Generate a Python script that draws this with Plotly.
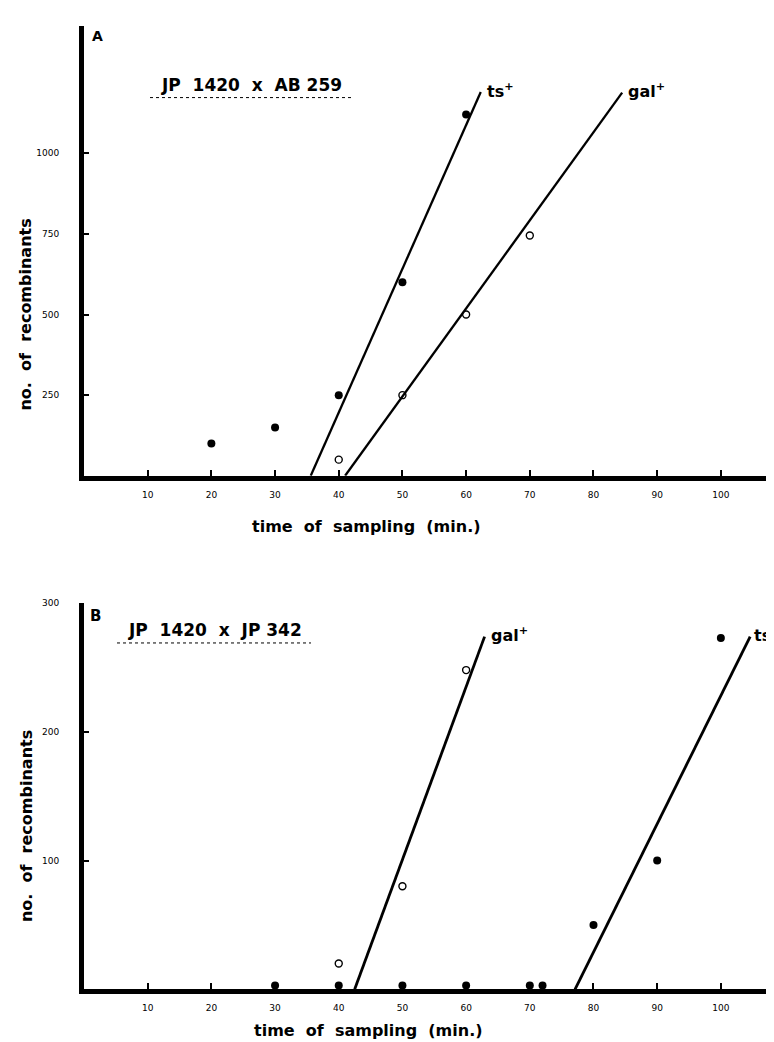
import plotly.graph_objects as go

# ---------------- data ----------------
# Panel A: JP 1420 x AB 259
a_ts_time = [20, 30, 40, 50, 60]
a_ts_count = [100, 150, 250, 600, 1120]
a_gal_time = [40, 50, 60, 70]
a_gal_count = [50, 250, 500, 745]
a_ts_fit_time = [35.6, 62.3]
a_ts_fit_count = [0, 1190]
a_gal_fit_time = [41.0, 84.5]
a_gal_fit_count = [0, 1188]

# Panel B: JP 1420 x JP 342
b_gal_time = [40, 50, 60]
b_gal_count = [20, 80, 248]
b_ts_time = [30, 40, 50, 60, 70, 72, 80, 90, 100]
b_ts_count = [3, 3, 3, 3, 3, 3, 50, 100, 273]
b_gal_fit_time = [42.5, 62.9]
b_gal_fit_count = [0, 274]
b_ts_fit_time = [77.1, 104.6]
b_ts_fit_count = [0, 274]

x_ticks = [10, 20, 30, 40, 50, 60, 70, 80, 90, 100]
a_y_ticks = [250, 500, 750, 1000]
b_y_ticks = [100, 200, 300]

# ---------------- figure ----------------
W, H = 774, 1042
L = 76
FONT = "DejaVu Sans"

def px(xp):
    return (xp - L) / (W - L)

def py(yp):
    return 1 - yp / H

fig = go.Figure()

def add_panel(xa, ya, fits, filled, opened, lw):
    for fx, fy in fits:
        fig.add_trace(go.Scatter(x=fx, y=fy, mode="lines", xaxis=xa, yaxis=ya,
                                 line=dict(color="black", width=lw),
                                 showlegend=False, hoverinfo="skip"))
    fig.add_trace(go.Scatter(x=filled[0], y=filled[1], mode="markers", xaxis=xa, yaxis=ya,
                             marker=dict(symbol="circle", size=8, color="black"),
                             showlegend=False, cliponaxis=False))
    fig.add_trace(go.Scatter(x=opened[0], y=opened[1], mode="markers", xaxis=xa, yaxis=ya,
                             marker=dict(symbol="circle-open", size=7, color="black",
                                         line=dict(width=1.4)),
                             showlegend=False, cliponaxis=False))

add_panel("x", "y",
          [(a_ts_fit_time, a_ts_fit_count), (a_gal_fit_time, a_gal_fit_count)],
          (a_ts_time, a_ts_count), (a_gal_time, a_gal_count), 2.3)
add_panel("x2", "y2",
          [(b_gal_fit_time, b_gal_fit_count), (b_ts_fit_time, b_ts_fit_count)],
          (b_ts_time, b_ts_count), (b_gal_time, b_gal_count), 2.8)

xrange = [0, 109.6]
common_x = dict(range=xrange, tickvals=x_ticks, ticktext=[str(v) for v in x_ticks],
                showgrid=False, zeroline=False, showline=True, linecolor="black",
                linewidth=5, ticks="inside", ticklen=6, tickwidth=2, tickcolor="black",
                tickfont=dict(family=FONT, size=9, color="black"),
                ticklabelstandoff=6, domain=[0, 1])
common_y = dict(showgrid=False, zeroline=False, showline=True, linecolor="black",
                linewidth=5, ticks="inside", ticklen=5, tickwidth=2, tickcolor="black",
                tickfont=dict(family=FONT, size=9, color="black"),
                ticklabelstandoff=18)

fig.update_layout(
    width=W, height=H,
    margin=dict(l=L, r=0, t=0, b=0),
    paper_bgcolor="white", plot_bgcolor="white",
    xaxis=dict(anchor="y", **common_x),
    yaxis=dict(anchor="x", range=[0, 1395], domain=[py(465), py(13)],
               tickvals=a_y_ticks, ticktext=[str(v) for v in a_y_ticks], **common_y),
    xaxis2=dict(anchor="y2", **common_x),
    yaxis2=dict(anchor="x2", range=[0, 300], domain=[py(981), py(593)],
                tickvals=b_y_ticks, ticktext=[str(v) for v in b_y_ticks], **common_y),
    font=dict(family=FONT, color="black"),
)

bold = dict(family=FONT, size=16, color="black")
ann = []
# axis titles
for yc, xc in [(516, 358), (1022, 360)]:
    ann.append(dict(text="<b>time  of  sampling  (min.)</b>", x=px(xc), y=py(yc),
                    xref="paper", yref="paper", showarrow=False, font=bold,
                    xanchor="center", yanchor="middle"))
for yc in [303, 817]:
    ann.append(dict(text="<b>no.  of  recombinants</b>", x=px(18), y=py(yc),
                    xref="paper", yref="paper", showarrow=False, font=bold,
                    textangle=-90, xanchor="center", yanchor="middle"))
# panel letters
ann.append(dict(text="<b>A</b>", x=px(82), y=py(23), xref="paper", yref="paper",
                showarrow=False, font=dict(family=FONT, size=14, color="black"),
                xanchor="left", yanchor="middle"))
ann.append(dict(text="<b>B</b>", x=px(80), y=py(606), xref="paper", yref="paper",
                showarrow=False, font=dict(family=FONT, size=15, color="black"),
                xanchor="left", yanchor="middle"))
# cross titles
title_font = dict(family=FONT, size=17, color="black")
ann.append(dict(text="<b>JP  1420  x  AB 259</b>", x=px(243), y=py(72), xref="paper",
                yref="paper", showarrow=False, font=title_font,
                xanchor="center", yanchor="middle"))
ann.append(dict(text="<b>JP  1420  x  JP 342</b>", x=px(207), y=py(620), xref="paper",
                yref="paper", showarrow=False, font=title_font,
                xanchor="center", yanchor="middle"))
# curve labels
lab = dict(family=FONT, size=16, color="black")
ann.append(dict(text="<b>ts<sup>+</sup></b>", x=a_ts_fit_time[1], y=a_ts_fit_count[1],
                xref="x", yref="y", xshift=4, yshift=2, showarrow=False, font=lab,
                xanchor="left", yanchor="middle"))
ann.append(dict(text="<b>gal<sup>+</sup></b>", x=a_gal_fit_time[1], y=a_gal_fit_count[1],
                xref="x", yref="y", xshift=4, yshift=2, showarrow=False, font=lab,
                xanchor="left", yanchor="middle"))
ann.append(dict(text="<b>gal<sup>+</sup></b>", x=b_gal_fit_time[1], y=b_gal_fit_count[1],
                xref="x2", yref="y2", xshift=4, yshift=2, showarrow=False, font=lab,
                xanchor="left", yanchor="middle"))
ann.append(dict(text="<b>ts<sup>+</sup></b>", x=b_ts_fit_time[1], y=b_ts_fit_count[1],
                xref="x2", yref="y2", xshift=2, yshift=2, showarrow=False, font=lab,
                xanchor="left", yanchor="middle"))
fig.update_layout(annotations=ann)

# dotted underlines of the cross titles
fig.add_shape(type="line", xref="paper", yref="paper", x0=px(142), x1=px(345),
              y0=py(85), y1=py(85), line=dict(color="black", width=1, dash="dot"))
fig.add_shape(type="line", xref="paper", yref="paper", x0=px(109), x1=px(303),
              y0=py(633), y1=py(633), line=dict(color="black", width=1, dash="dot"))

fig.write_html("out.html")
